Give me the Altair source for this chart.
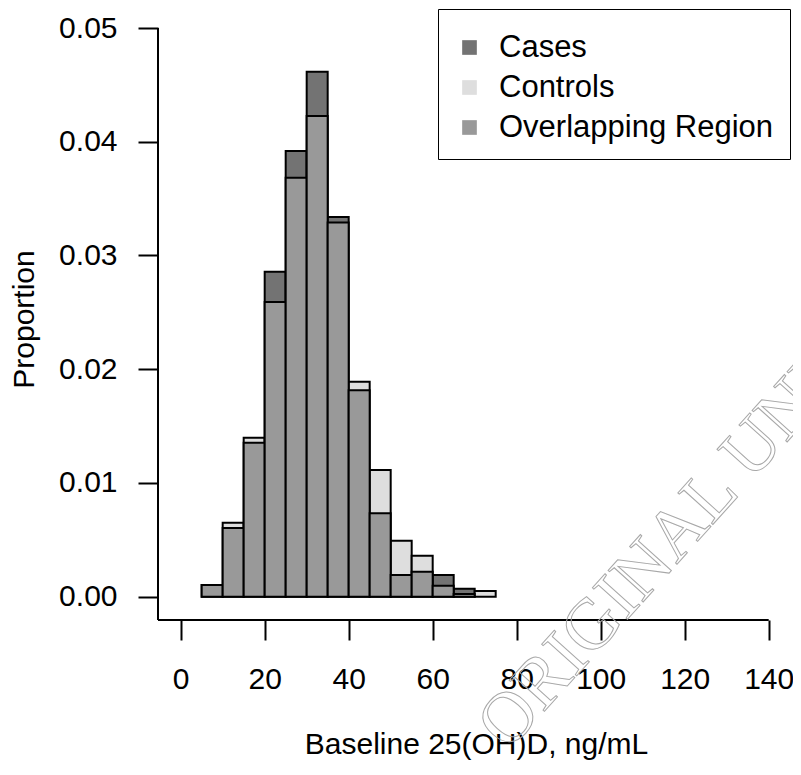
import altair as alt
import pandas as pd

# Histogram bins (ng/mL), width 5
bin_starts = [5, 10, 15, 20, 25, 30, 35, 40, 45, 50, 55, 60, 65, 70]
bin_width = 5
cases = [0.00103, 0.00604, 0.01354, 0.02856, 0.03919, 0.04615, 0.03338,
         0.01815, 0.00733, 0.00191, 0.00220, 0.00191, 0.00070, 0.0]
controls = [0.00103, 0.00651, 0.01398, 0.02591, 0.03684, 0.04226, 0.03291,
            0.01890, 0.01114, 0.00492, 0.00360, 0.00097, 0.00024, 0.00050]

groups = ["Cases", "Controls", "Overlapping Region"]
group_colors = ["#737373", "#DEDEDE", "#999999"]

x_ticks = [0, 20, 40, 60, 80, 100, 120, 140]
y_ticks = [0.00, 0.01, 0.02, 0.03, 0.04, 0.05]

x_domain = [-5.4, 142.69]
y_domain = [-0.00205, 0.05088]

rows = []
for s, ca, co in zip(bin_starts, cases, controls):
    top = max(ca, co)
    low = min(ca, co)
    rows.append({"start": s, "end": s + bin_width, "value": top,
                 "group": "Cases" if ca >= co else "Controls", "layer": 0})
    if low > 0:
        rows.append({"start": s, "end": s + bin_width, "value": low,
                     "group": "Overlapping Region", "layer": 1})
df = pd.DataFrame(rows)

FONT = "Liberation Sans"
FS = 30

xscale = alt.Scale(domain=x_domain, nice=False, zero=False)
yscale = alt.Scale(domain=y_domain, nice=False, zero=False)

color = alt.Color(
    "group:N",
    scale=alt.Scale(domain=groups, range=group_colors),
    legend=alt.Legend(
        title=" ", titleFontSize=5, titlePadding=2,
        orient="none", legendX=280, legendY=-9,
        symbolType="square", symbolSize=215, symbolStrokeWidth=0,
        labelFontSize=31, labelFont=FONT, labelColor="black",
        labelOffset=14, rowPadding=8, padding=16,
        strokeColor="black", fillColor="white",
        labelLimit=500,
    ),
)

xaxis = alt.Axis(values=x_ticks, domain=False, grid=False, tickSize=20,
                 tickWidth=2, tickColor="black", labelFontSize=FS,
                 labelFont=FONT, labelColor="black", labelPadding=24,
                 title="Baseline 25(OH)D, ng/mL", titleFontSize=FS,
                 titleFont=FONT, titleFontWeight="normal", titleColor="black",
                 titlePadding=35, titleX=318)
yaxis = alt.Axis(values=y_ticks, format=".2f", domain=False, grid=False,
                 tickSize=20, tickWidth=2, tickColor="black",
                 labelFontSize=FS, labelFont=FONT, labelColor="black",
                 labelPadding=21, title="Proportion", titleFontSize=FS,
                 titleFont=FONT, titleFontWeight="normal", titleColor="black",
                 titlePadding=19)

base = alt.Chart(df)

bars_top = base.transform_filter("datum.layer == 0").mark_bar(
    stroke="black", strokeWidth=2
).encode(
    x=alt.X("start:Q", scale=xscale, axis=xaxis),
    x2="end:Q",
    y=alt.Y("value:Q", scale=yscale, axis=yaxis),
    y2=alt.datum(0),
    color=color,
)

bars_low = base.transform_filter("datum.layer == 1").mark_bar(
    stroke="black", strokeWidth=2
).encode(
    x=alt.X("start:Q", scale=xscale),
    x2="end:Q",
    y=alt.Y("value:Q", scale=yscale),
    y2=alt.datum(0),
    color=color,
)

# R-style axis lines (L-shaped frame from the top tick down and across to the last tick)
yline = alt.Chart(pd.DataFrame({
    "x": [x_domain[0]], "y": [y_ticks[-1]], "y2": [y_domain[0]]
})).mark_rule(color="black", strokeWidth=2).encode(
    x=alt.X("x:Q", scale=xscale),
    y=alt.Y("y:Q", scale=yscale),
    y2="y2:Q",
)
xline = alt.Chart(pd.DataFrame({
    "x": [x_domain[0]], "x2": [x_ticks[-1]], "y": [y_domain[0]]
})).mark_rule(color="black", strokeWidth=2).encode(
    x=alt.X("x:Q", scale=xscale),
    x2="x2:Q",
    y=alt.Y("y:Q", scale=yscale),
)

watermark = alt.Chart(pd.DataFrame({"t": ["ORIGINAL UNEDITED MANUSCRIPT"]})).mark_text(
    align="left", baseline="alphabetic", angle=312, fontSize=72,
    font="Liberation Serif", fill="transparent", stroke="#a8a8a8",
    strokeWidth=1,
).encode(
    text="t:N",
    x=alt.value(350),
    y=alt.value(734),
)

chart = alt.layer(bars_top, bars_low, yline, xline, watermark).properties(
    width=622, height=602,
    background="white",
    autosize=alt.AutoSizeParams(type="none"),
    padding={"left": 150, "top": 10, "right": 13, "bottom": 146},
).configure_view(strokeWidth=0)

chart.save("out.html", embed_options={"renderer": "svg", "actions": False})
